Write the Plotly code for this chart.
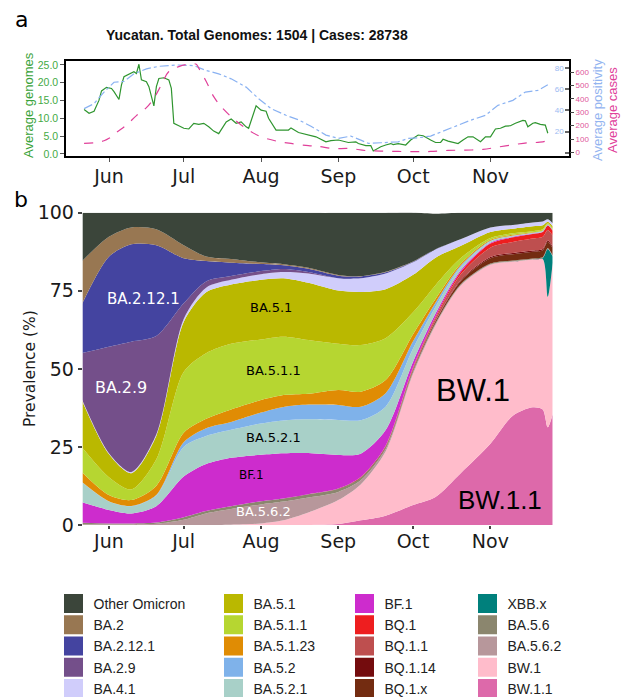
import plotly.graph_objects as go

W, H = 625, 697

# ---------------- Panel a data ----------------
genome_dates = ["2022-05-22","2022-05-24","2022-05-26","2022-05-28","2022-05-29","2022-05-31","2022-06-02","2022-06-03",
    "2022-06-05","2022-06-06","2022-06-07","2022-06-09","2022-06-11","2022-06-12","2022-06-13","2022-06-14","2022-06-16",
    "2022-06-17","2022-06-18","2022-06-19","2022-06-20","2022-06-21","2022-06-23","2022-06-25","2022-06-26","2022-06-27",
    "2022-06-29","2022-07-01","2022-07-03","2022-07-05","2022-07-07","2022-07-09","2022-07-11","2022-07-13","2022-07-15",
    "2022-07-18","2022-07-20","2022-07-22","2022-07-24","2022-07-26","2022-07-27","2022-07-29","2022-07-30","2022-08-01",
    "2022-08-03","2022-08-04","2022-08-07","2022-08-12","2022-08-13","2022-08-16","2022-08-19","2022-08-20","2022-08-23",
    "2022-08-27","2022-08-29","2022-09-01","2022-09-03","2022-09-05","2022-09-08","2022-09-09","2022-09-12","2022-09-14",
    "2022-09-15","2022-09-18","2022-09-20","2022-09-22","2022-09-23","2022-09-25","2022-09-28","2022-09-30","2022-10-03",
    "2022-10-05","2022-10-08","2022-10-10","2022-10-12","2022-10-13","2022-10-15","2022-10-17","2022-10-19","2022-10-21",
    "2022-10-23","2022-10-25","2022-10-28","2022-10-30","2022-11-01","2022-11-03","2022-11-05","2022-11-07","2022-11-09",
    "2022-11-11","2022-11-13","2022-11-14","2022-11-15","2022-11-16","2022-11-18","2022-11-19","2022-11-21","2022-11-23",
    "2022-11-24"]
genome_vals = [12.5,11.4,12.0,15.1,17.7,18.7,18.4,17.5,15.3,19.4,21.7,22.4,23.1,22.6,25.2,20.8,20.3,18.9,16.1,13.5,18.9,
    21.2,21.4,20.8,18.4,8.6,7.9,7.2,7.0,8.6,8.3,8.6,7.6,6.4,5.7,9.0,9.8,8.6,9.0,7.6,7.2,11.4,13.5,12.3,12.0,10.0,6.7,6.7,
    7.3,6.0,5.5,5.3,4.8,3.4,3.7,3.9,3.6,3.2,3.4,2.9,2.3,2.3,0.8,2.0,2.5,2.9,2.6,2.9,2.5,3.9,5.3,5.1,3.9,3.2,3.2,4.1,3.6,
    3.2,2.9,3.9,4.8,4.8,3.4,4.8,4.8,7.0,7.2,7.8,7.9,8.6,9.2,9.4,9.3,7.6,8.6,8.8,8.3,8.1,5.8]

cases_dates = ["2022-05-22","2022-05-26","2022-05-30","2022-06-01","2022-06-04","2022-06-08","2022-06-12","2022-06-16",
    "2022-06-19","2022-06-22","2022-06-25","2022-06-29","2022-07-03","2022-07-06","2022-07-07","2022-07-10","2022-07-13",
    "2022-07-16","2022-07-20","2022-07-24","2022-07-28","2022-08-01","2022-08-07","2022-08-13","2022-08-20","2022-08-24",
    "2022-08-30","2022-09-05","2022-09-12","2022-09-18","2022-09-25","2022-10-02","2022-10-08","2022-10-15","2022-10-22",
    "2022-10-29","2022-11-04","2022-11-11","2022-11-16","2022-11-20","2022-11-23","2022-11-24"]
cases_vals = [67,72,87,105,150,205,275,335,405,505,605,642,660,660,630,530,417,342,267,205,155,117,85,67,50,45,28,30,
    14,10,7,5,7,15,17,22,40,60,72,75,85,117]

posit_dates = ["2022-05-22","2022-05-26","2022-05-30","2022-06-03","2022-06-07","2022-06-11","2022-06-16","2022-06-21",
    "2022-06-28","2022-07-05","2022-07-10","2022-07-15","2022-07-20","2022-07-26","2022-07-31","2022-08-05","2022-08-11",
    "2022-08-16","2022-08-21","2022-08-27","2022-09-01","2022-09-04","2022-09-06","2022-09-10","2022-09-13","2022-09-18",
    "2022-09-25","2022-09-29","2022-10-03","2022-10-08","2022-10-14","2022-10-19","2022-10-24","2022-10-30","2022-11-04",
    "2022-11-10","2022-11-15","2022-11-20","2022-11-24"]
posit_vals = [41.6,46.3,57.2,66.5,67.2,74.4,79.1,81.5,82.8,82.2,77.5,74.4,69.7,61.9,51.0,41.6,35.3,31.0,25.0,16.6,13.5,
    15.0,15.7,11.9,8.8,9.4,10.3,13.5,14.1,15.7,21.3,26.0,30.6,35.3,44.7,49.4,57.2,58.8,64.1]

genome_ticks = [0, 5, 10, 15, 20, 25]
posit_ticks = [0, 20, 40, 60, 80]
cases_ticks = [0, 100, 200, 300, 400, 500, 600]

# ---------------- Panel b data ----------------
prev_dates = ["2022-05-21","2022-06-01","2022-06-10","2022-06-20","2022-07-01","2022-07-10","2022-07-20","2022-08-01",
    "2022-08-10","2022-08-20","2022-09-01","2022-09-10","2022-09-20","2022-10-01","2022-10-10","2022-10-20","2022-11-01",
    "2022-11-10","2022-11-18","2022-11-22","2022-11-24","2022-11-26"]

bw_1_1   = [0,0,0,0,0,0,0,0,0,0,0.3,1.5,3.0,6.4,9.0,16.5,26.0,35.0,37.7,37.0,31.3,35.5]
bw_1     = [0,0,0,0,0,0,0.1,0.5,1.5,4.0,7.7,11.5,20.5,42.0,55.0,60.0,57.3,49.3,47.3,48.2,41.8,48.5]
xbb_x    = [0,0,0,0,0,0,0,0,0,0,0,0,0,0,0,0,0,0,0,0.3,15.3,2.0]
ba_5_6_2 = [0.2,0.2,0.2,0.4,1.7,3.7,5.0,6.1,6.0,4.8,2.6,1.3,0.8,0.6,0.4,0.3,0.2,0.2,0.1,0.1,0.1,0.1]
ba_5_6   = [0.5,0.3,0.3,0.4,0.8,0.8,0.9,1.0,1.0,1.0,0.9,0.7,0.5,0.4,0.3,0.2,0.2,0.2,0.2,0.2,0.2,0.2]
bq_1_x   = [0,0,0,0,0,0,0,0,0,0.05,0.1,0.15,0.2,0.3,0.5,1.0,1.7,2.0,2.2,2.2,2.0,2.3]
bq_1_14  = [0,0,0,0,0,0,0,0,0,0,0,0.05,0.1,0.1,0.2,0.3,0.4,0.4,0.4,0.4,0.5,0.5]
bq_1_1   = [0,0,0,0,0,0,0,0,0,0,0.05,0.1,0.2,0.4,0.8,1.8,3.0,3.5,3.8,3.9,3.3,3.6]
bq_1     = [0,0,0,0,0,0,0,0,0,0,0,0.05,0.1,0.3,0.5,0.8,1.3,1.5,1.5,1.5,1.4,1.5]
bf_1     = [6.6,4.3,3.2,5.2,13.0,15.0,15.5,14.9,14.5,13.2,10.8,7.5,5.0,1.8,1.0,0.6,0.3,0.2,0.1,0.1,0.1,0.1]
ba_5_2_1 = [6.5,2.7,2.3,3.4,9.5,9.0,9.0,10.0,10.5,10.8,11.2,10.7,7.5,4.2,2.2,1.0,0.4,0.3,0.2,0.2,0.1,0.1]
ba_5_2   = [0.1,0.1,0.1,0.2,1.5,2.5,2.5,3.5,4.3,4.7,4.8,4.3,4.3,2.3,1.3,0.5,0.2,0.1,0.1,0.1,0.1,0.1]
ba_5_1_23= [3.2,2.0,1.9,2.9,3.0,3.0,4.0,4.0,3.8,3.5,4.8,4.85,4.2,2.3,1.2,0.6,0.3,0.2,0.1,0.1,0.1,0.1]
ba_5_1_1 = [8.0,5.7,3.4,8.5,19.5,21.0,21.0,19.4,18.7,17.2,14.8,14.9,13.4,7.0,4.4,1.8,0.6,0.5,0.4,0.4,0.3,0.3]
ba_5_1   = [15.2,7.4,5.2,7.5,16.0,19.5,19.0,19.1,18.7,18.3,17.0,17.0,15.7,12.0,8.8,3.9,1.9,1.5,1.6,1.3,0.5,0.8]
ba_4_1   = [0.3,0.3,0.4,0.5,1.0,1.5,1.5,1.8,2.0,3.0,4.0,4.4,5.0,4.0,2.6,2.2,1.5,1.2,1.2,1.2,0.8,0.9]
ba_2_9   = [14.4,34.1,41.7,31.5,5.0,2.0,1.2,1.0,1.0,0.5,0,0,0,0,0,0,0,0,0,0,0,0]
ba_2_12_1= [15.4,28.8,31.2,29.1,14.4,6.5,4.3,2.3,1.2,1.0,0.8,0.6,0.4,0.2,0.1,0,0,0,0,0,0,0]
ba_2     = [13.9,6.4,5.4,5.1,4.2,1.5,1.2,0.5,0.3,0.3,0.2,0.1,0.2,0.1,0,0,0,0,0,0,0,0]
other_om = [15.7,7.7,4.7,5.3,10.4,14.0,14.8,15.9,16.5,17.6,19.9,20.3,18.9,15.7,11.4,8.5,4.7,3.9,3.1,2.8,2.1,3.4]

# stacking order: bottom -> top
lineages = [
    ("BW.1.1", bw_1_1, "#dd69aa"),
    ("BW.1", bw_1, "#ffbccb"),
    ("XBB.x", xbb_x, "#00807c"),
    ("BA.5.6.2", ba_5_6_2, "#b7979b"),
    ("BA.5.6", ba_5_6, "#8b866e"),
    ("BQ.1.x", bq_1_x, "#732c11"),
    ("BQ.1.14", bq_1_14, "#740c0e"),
    ("BQ.1.1", bq_1_1, "#be4f4f"),
    ("BQ.1", bq_1, "#ee1e1f"),
    ("BF.1", bf_1, "#cd2ccd"),
    ("BA.5.2.1", ba_5_2_1, "#a8d0c8"),
    ("BA.5.2", ba_5_2, "#7fb2ea"),
    ("BA.5.1.23", ba_5_1_23, "#e08c04"),
    ("BA.5.1.1", ba_5_1_1, "#b6d631"),
    ("BA.5.1", ba_5_1, "#bab800"),
    ("BA.4.1", ba_4_1, "#d0cdfb"),
    ("BA.2.9", ba_2_9, "#744f8a"),
    ("BA.2.12.1", ba_2_12_1, "#4444a0"),
    ("BA.2", ba_2, "#987752"),
    ("Other Omicron", other_om, "#3b453a"),
]
colors = {n: c for n, _, c in lineages}

legend_columns = [
    ["Other Omicron", "BA.2", "BA.2.12.1", "BA.2.9", "BA.4.1"],
    ["BA.5.1", "BA.5.1.1", "BA.5.1.23", "BA.5.2", "BA.5.2.1"],
    ["BF.1", "BQ.1", "BQ.1.1", "BQ.1.14", "BQ.1.x"],
    ["XBB.x", "BA.5.6", "BA.5.6.2", "BW.1", "BW.1.1"],
]

# in-area labels: (text, date, percent, size, color, font)
area_labels = [
    ("BA.2.12.1", "2022-06-15", 72.4, 15, "white", "DejaVu Sans"),
    ("BA.2.9", "2022-06-06", 43.9, 16, "white", "DejaVu Sans"),
    ("BA.5.1", "2022-08-05", 69.8, 13, "black", "DejaVu Sans"),
    ("BA.5.1.1", "2022-08-06", 49.6, 13, "black", "DejaVu Sans"),
    ("BA.5.2.1", "2022-08-06", 27.9, 13, "black", "DejaVu Sans"),
    ("BF.1", "2022-07-28", 16.0, 12, "black", "DejaVu Sans"),
    ("BA.5.6.2", "2022-08-02", 4.2, 13, "white", "DejaVu Sans"),
    ("BW.1", "2022-10-25", 43.2, 31, "black", "Liberation Sans, Arial"),
    ("BW.1.1", "2022-11-05", 8.0, 26, "black", "Liberation Sans, Arial"),
]

# ---------------- helpers (pixel -> paper) ----------------
def px(x):
    return x / W

def py(y):
    return 1 - y / H

fig = go.Figure()

GREEN = "#2f952f"
PINK = "#e0409a"
BLUE = "#8ab2f2"

fig.add_trace(go.Scatter(x=genome_dates, y=genome_vals, mode="lines", line=dict(color=GREEN, width=1.2),
                         xaxis="x", yaxis="y", showlegend=False, hoverinfo="skip"))
fig.add_trace(go.Scatter(x=posit_dates, y=posit_vals, mode="lines", line=dict(color=BLUE, width=1.2, dash="dashdot"),
                         xaxis="x", yaxis="y2", showlegend=False, hoverinfo="skip"))
fig.add_trace(go.Scatter(x=cases_dates, y=cases_vals, mode="lines", line=dict(color=PINK, width=1.2, dash="dash", shape="spline"),
                         xaxis="x", yaxis="y3", showlegend=False, hoverinfo="skip"))

for name, vals, col in lineages:
    fig.add_trace(go.Scatter(x=prev_dates, y=vals, name=name, stackgroup="prev", mode="lines",
                             line=dict(width=0, shape="spline", smoothing=0.8, color=col),
                             fillcolor=col, xaxis="x2", yaxis="y4", showlegend=False, hoverinfo="skip"))

legend_names = ["legend", "legend2", "legend3", "legend4"]
for li, col_items in enumerate(legend_columns):
    for name in col_items:
        c = colors[name]
        fig.add_trace(go.Scatter(x=[None], y=[None], mode="markers", name=name,
                                 marker=dict(symbol="square", size=16, color=c, line=dict(width=3, color=c)),
                                 xaxis="x2", yaxis="y4", legend=legend_names[li], showlegend=True))

legend_x = [53.5, 213.5, 344.5, 467.5]
legend_common = dict(font=dict(family="Liberation Sans, Arial", size=14, color="#222"),
                     bgcolor="rgba(0,0,0,0)", borderwidth=0, orientation="v", traceorder="normal",
                     xanchor="left", yanchor="top", y=py(588), tracegroupgap=0,
                     itemclick=False, itemdoubleclick=False)
layout_legends = {}
for li, ln in enumerate(legend_names):
    layout_legends[ln] = dict(legend_common, x=px(legend_x[li]))

tick_font = dict(family="DejaVu Sans", size=19, color="#1a1a1a")

fig.update_layout(
    width=W, height=H,
    margin=dict(l=0, r=0, t=0, b=0, autoexpand=False),
    paper_bgcolor="white", plot_bgcolor="white",
    showlegend=True,
    **layout_legends,
    xaxis=dict(domain=[px(66), px(569)], anchor="y", type="date",
               range=["2022-05-14 18:00", "2022-12-02 12:00"],
               tick0="2022-06-01", dtick="M1", tickformat="%b",
               showline=True, linecolor="black", linewidth=1.5, mirror=True,
               ticks="outside", ticklen=4, tickcolor="#555", tickwidth=1.2, ticklabelstandoff=-2,
               tickfont=tick_font, showgrid=False, zeroline=False),
    yaxis=dict(domain=[py(156), py(60.7)], anchor="x", range=[-0.6, 26.2],
               tickvals=genome_ticks, tickformat=".1f",
               showline=True, linecolor="black", linewidth=1.5, mirror=True,
               ticks="outside", ticklen=4, tickcolor="#555", tickwidth=1.2,
               tickfont=dict(family="Liberation Sans, Arial", size=10.5, color="#44aa44"),
               showgrid=False, zeroline=False),
    yaxis2=dict(overlaying="y", anchor="x", side="right", range=[-3.1, 86.8],
                tickvals=posit_ticks, ticks="inside", ticklabelposition="inside",
                ticklen=4, tickcolor="#666", tickwidth=1.5,
                tickfont=dict(family="Liberation Sans, Arial", size=8, color="#9dbbf2"),
                showgrid=False, zeroline=False, showline=False),
    yaxis3=dict(overlaying="y", anchor="x", side="right", range=[-27, 686],
                tickvals=cases_ticks, ticks="outside", ticklen=4, tickcolor="#444", tickwidth=1.2,
                tickfont=dict(family="Liberation Sans, Arial", size=8, color="#e0559b"),
                showgrid=False, zeroline=False, showline=False),
    xaxis2=dict(domain=[px(82.7), px(552.7)], anchor="y4", type="date",
                range=["2022-05-21 12:00", "2022-11-26"],
                tick0="2022-06-01", dtick="M1", tickformat="%b",
                showline=False, ticks="outside", ticklen=3, tickcolor="#444", tickwidth=1.5, ticklabelstandoff=-4,
                tickfont=tick_font, showgrid=False, zeroline=False),
    yaxis4=dict(domain=[py(525), py(212.7)], anchor="x2", range=[0, 100],
                tickvals=[0, 25, 50, 75, 100], showline=False,
                ticks="outside", ticklen=4, tickcolor="#444", tickwidth=1.5,
                tickfont=tick_font, showgrid=False, zeroline=False),
)

annotations = [
    dict(text="a", x=px(21), y=py(20), xref="paper", yref="paper", showarrow=False,
         font=dict(family="DejaVu Sans", size=22, color="black"), xanchor="center", yanchor="middle"),
    dict(text="b", x=px(21), y=py(199), xref="paper", yref="paper", showarrow=False,
         font=dict(family="DejaVu Sans", size=22, color="black"), xanchor="center", yanchor="middle"),
    dict(text="<b>Yucatan. Total Genomes: 1504 | Cases: 28738</b>", x=px(257), y=py(35), xref="paper", yref="paper",
         showarrow=False, font=dict(family="Liberation Sans, Arial", size=14, color="#111"),
         xanchor="center", yanchor="middle"),
    dict(text="Average genomes", x=px(28), y=py(105), xref="paper", yref="paper", showarrow=False, textangle=-90,
         font=dict(family="Liberation Sans, Arial", size=13, color="#3aa33a"), xanchor="center", yanchor="middle"),
    dict(text="Average positivity", x=px(597), y=py(110), xref="paper", yref="paper", showarrow=False, textangle=-90,
         font=dict(family="Liberation Sans, Arial", size=13, color="#93b4f0"), xanchor="center", yanchor="middle"),
    dict(text="Average cases", x=px(612), y=py(110), xref="paper", yref="paper", showarrow=False, textangle=-90,
         font=dict(family="Liberation Sans, Arial", size=13, color="#e0409a"), xanchor="center", yanchor="middle"),
    dict(text="Prevalence (%)", x=px(30), y=py(369), xref="paper", yref="paper", showarrow=False, textangle=-90,
         font=dict(family="DejaVu Sans", size=15.5, color="#1a1a1a"), xanchor="center", yanchor="middle"),
]
for text, d, v, size, col, fam in area_labels:
    annotations.append(dict(text=text, x=d, y=v, xref="x2", yref="y4", showarrow=False,
                            font=dict(family=fam, size=size, color=col), xanchor="center", yanchor="middle"))
fig.update_layout(annotations=annotations)

fig.write_html("out.html",
               config={"displayModeBar": False},
               post_script="document.body.style.margin='0';document.body.style.padding='0';"
                           "document.documentElement.style.overflow='hidden';")
